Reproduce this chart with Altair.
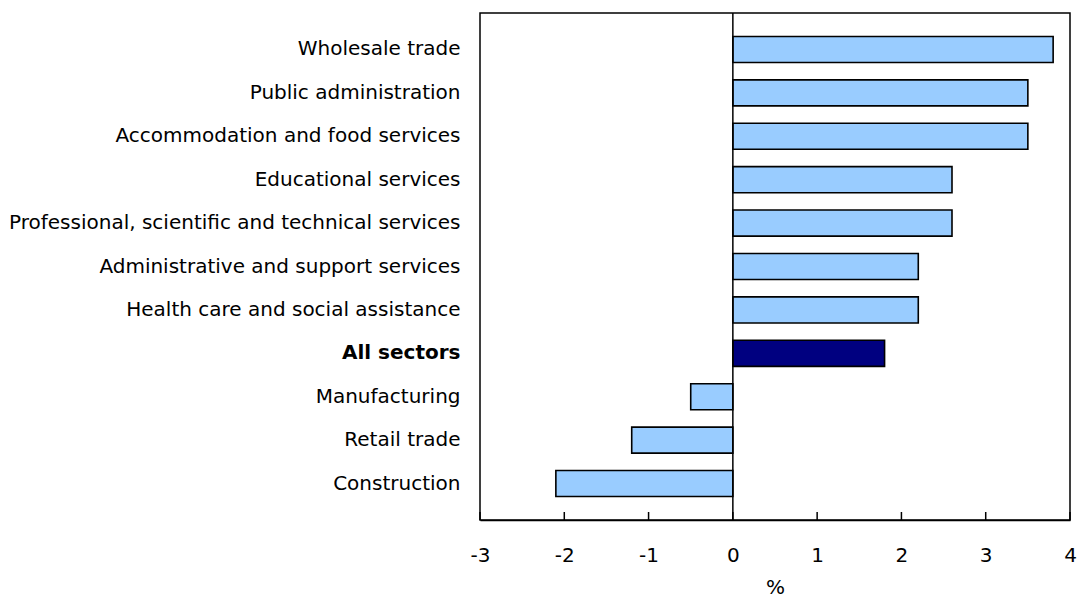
import altair as alt
import pandas as pd

sectors = [
    "Wholesale trade",
    "Public administration",
    "Accommodation and food services",
    "Educational services",
    "Professional, scientific and technical services",
    "Administrative and support services",
    "Health care and social assistance",
    "All sectors",
    "Manufacturing",
    "Retail trade",
    "Construction",
]
values = [3.8, 3.5, 3.5, 2.6, 2.6, 2.2, 2.2, 1.8, -0.5, -1.2, -2.1]
x_ticks = [-3, -2, -1, 0, 1, 2, 3, 4]

df = pd.DataFrame({"sector": sectors, "value": values})
df["highlight"] = ["total" if s == "All sectors" else "sector" for s in sectors]
ticks_df = pd.DataFrame({"t": x_ticks})

W, H = 590, 507
FONT = "DejaVu Sans"
FS = 20

xscale = alt.Scale(domain=[-3, 4], nice=False, zero=False)

bars = alt.Chart(df).mark_bar(stroke="black", strokeWidth=1.6).encode(
    x=alt.X(
        "value:Q",
        scale=xscale,
        axis=alt.Axis(
            values=x_ticks,
            labelExpr="'' + datum.value",
            labelFlush=False,
            title="%",
            titleFont=FONT,
            titleFontSize=FS,
            titleFontWeight="normal",
            titleColor="black",
            titlePadding=12,
            labelFont=FONT,
            labelFontSize=FS,
            labelColor="black",
            labelPadding=25,
            tickSize=0,
            domainColor="black",
            domainWidth=1.5,
            grid=False,
        ),
    ),
    x2=alt.datum(0),
    y=alt.Y(
        "sector:N",
        sort=sectors,
        scale=alt.Scale(paddingInner=0.4, paddingOuter=0.54),
        axis=alt.Axis(
            title=None,
            ticks=False,
            domain=False,
            labelFont=FONT,
            labelFontSize=FS,
            labelColor="black",
            labelPadding=20,
            labelLimit=700,
            labelFontWeight=alt.expr("datum.value == 'All sectors' ? 'bold' : 'normal'"),
        ),
    ),
    color=alt.Color(
        "highlight:N",
        scale=alt.Scale(domain=["sector", "total"], range=["#99CCFF", "#000080"]),
        legend=None,
    ),
)

zero_line = alt.Chart(pd.DataFrame({"z": [0]})).mark_rule(color="black", strokeWidth=1.5).encode(
    x=alt.X("z:Q", scale=xscale)
)

tick_marks = alt.Chart(ticks_df).mark_rule(color="black", strokeWidth=1.5).encode(
    x=alt.X("t:Q", scale=xscale),
    y=alt.value(H - 8),
    y2=alt.value(H),
)

chart = (
    alt.layer(bars, zero_line, tick_marks)
    .properties(
        width=W,
        height=H,
        background="white",
        padding={"left": 0, "top": 4, "right": 0, "bottom": 0},
    )
    .configure_view(stroke="black", strokeWidth=1.5)
)

chart.save("out.html", embed_options={"renderer": "svg", "actions": False})
